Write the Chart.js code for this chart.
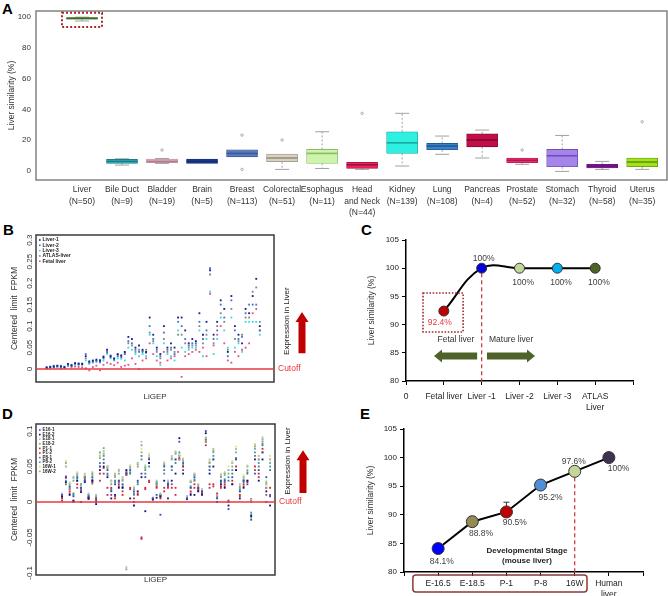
<!DOCTYPE html>
<html>
<head>
<meta charset="utf-8">
<script src="https://cdn.jsdelivr.net/npm/chart.js@4.4.1/dist/chart.umd.min.js"></script>
<style>
  body { margin: 0; background: #fff; width: 668px; height: 596px; position: relative; overflow: hidden;
         font-family: "Liberation Sans", Arial, sans-serif; }
  .panel { position: absolute; }
  .tag { position: absolute; font-weight: bold; font-size: 15px; color: #000; line-height: 15px; }
</style>
</head>
<body>
<div class="tag" style="left:2px;top:1px">A</div>
<div class="tag" style="left:3px;top:222px">B</div>
<div class="tag" style="left:361px;top:222px">C</div>
<div class="tag" style="left:2px;top:406px">D</div>
<div class="tag" style="left:360px;top:406px">E</div>

<div class="panel" style="left:0;top:0"><canvas id="chartA" width="668" height="222"></canvas></div>
<div class="panel" style="left:0;top:222px"><canvas id="chartB" width="330" height="182"></canvas></div>
<div class="panel" style="left:330px;top:222px"><canvas id="chartC" width="338" height="190"></canvas></div>
<div class="panel" style="left:0;top:410px"><canvas id="chartD" width="330" height="186"></canvas></div>
<div class="panel" style="left:330px;top:412px"><canvas id="chartE" width="338" height="184"></canvas></div>

<script>
// ---------- A: liver similarity by tissue ----------
var tissues = ['Liver', 'Bile Duct', 'Bladder', 'Brain', 'Breast', 'Colorectal', 'Esophagus', 'Head and Neck',
               'Kidney', 'Lung', 'Pancreas', 'Prostate', 'Stomach', 'Thyroid', 'Uterus'];
var sampleN   = [50, 9, 19, 5, 113, 51, 11, 44, 139, 108, 4, 52, 32, 58, 35];
var boxMin    = [97.5, 3.7, 4.8, 4.8, 9.1, 0.9, 1.5, 0.9, 3.1, 10.7, 8.3, 4.2, -0.4, 0.9, 0.9];
var boxQ1     = [98.7, 4.8, 5.3, 4.8, 9.1, 5.9, 4.8, 1.5, 11.3, 13.7, 15.6, 5.2, 2.6, 1.8, 2.6];
var boxMedian = [99.2, 6.1, 6.2, 6.1, 11.3, 8.3, 11.3, 3.9, 18.2, 16.1, 20, 6.8, 9.8, 3.1, 5.7];
var boxQ3     = [99.7, 7.4, 7.6, 7.6, 13.7, 10.9, 13.9, 5.5, 25.4, 17.8, 24.1, 8.3, 13.9, 4.2, 8.3];
var boxMax    = [100, 7.8, 8, 7.6, 13.7, 10.9, 25.4, 5.5, 37.4, 22.6, 26.5, 8.3, 23, 6.1, 8.3];
var boxOutliers = [[], [], [13.5], [], [23.2, 0.9], [20], [], [37.4], [], [], [], [13.5], [], [], [31.9]];
var simTicks  = [0, 20, 40, 60, 80, 100];

// ---------- B: LiGEP expression, human samples ----------
var liver1 = [.004,.005,.006,.008,.006,.004,.012,.009,.014,.013, .012,.03,.018,.02,.022,.02,.028,.045,.03,.025,
              .035,.032,.04,.075,.07,.05,.055,.045,.04,.12, .08,.05,.035,.1,.05,.06,.05,.12,.12,.09,
              .06,.07,.065,.13,.08,.11,.23,.08,.11,.16, .14,.04,.17,.1,.08,.06,.14,.13,.17,.21,.1];
var liver2 = [.003,.004,.005,.007,.007,.005,.01,.008,.012,.011, .013,.035,.015,.017,.019,.016,.025,.04,.028,.022,
              .03,.028,.035,.065,.06,.045,.04,.04,.038,.1, .07,.045,.03,.085,.045,.05,.035,.11,.1,.07,
              .055,.06,.06,.11,.07,.09,.235,.07,.09,.15, .12,.03,.16,.09,.07,.075,.13,.15,.15,.15,.09];
var liver3 = [.003,.006,.004,.005,.008,.006,.009,.01,.01,.01, .011,.02,.012,.015,.016,.018,.02,.035,.025,.02,
              .025,.024,.02,.05,.045,.035,.03,.035,.03,.08, .06,.03,.01,.06,.035,.03,.02,.09,.05,.04,
              .045,.05,.05,.09,.03,.07,.18,.035,.07,.12, .09,.05,.12,.05,.06,.04,.11,.11,.11,.11,.08];
var atlasLiver = [.004,.005,.007,.006,.005,.004,.011,.007,.013,.012, .01,.025,.016,.019,.02,.021,.03,.038,.032,.024,
              .033,.03,.038,.06,.055,.04,.045,.042,.045,.085, .065,.04,.025,.07,.04,.045,.04,.08,.08,.06,
              .05,.055,.055,.1,.06,.08,.22,.06,.1,.13, .11,.045,.14,.07,.065,.08,.12,.12,.18,.19,.11];
var fetalLiver = [.002,.003,.008,.004,.002,.003,.007,.004,.006,.005, .004,.002,-.003,.005,.008,-.003,.01,.015,.012,.009,
              .015,.005,.008,.01,.025,.012,0,.02,.025,.06, .035,.02,.015,.04,.02,.025,.03,.04,-.018,.03,
              .035,.04,.045,.04,.05,.03,.175,.055,.08,.1, .06,.02,.015,.04,.03,.045,.05,.06,.13,.14,.09];
var seriesB = ['Liver-1', 'Liver-2', 'Liver-3', 'ATLAS-liver', 'Fetal liver'];
var ticksB = [0, 0.05, 0.1, 0.15, 0.2, 0.25, 0.3];

// ---------- C: similarity of human samples ----------
var samplesC = ['Fetal liver', 'Liver -1', 'Liver -2', 'Liver -3', ['ATLAS', 'Liver']];
var similarityC = [92.4, 100, 100, 100, 100];

// ---------- D: LiGEP expression, mouse stages ----------
var e16a = [.010,.035,.022,.008,.035,.02,.03,.008,.035,.002, .05,.055,.045,.015,.025,.03,.025,.04,.045,.015,
            .03,.04,.035,.06,.005,.01,-.018,.05,.025,.05, .06,.085,.055,.005,.02,.035,.02,.015,.1,.045,
            .06,.005,.03,.03,-.01,.035,.06,.015,.03,.025, -.025,.04,.045,.07,.035,.008];
var e16b = [.008,.028,.01,.002,.03,.014,.028,.005,.03,-.003, .045,.05,.035,.005,.01,.02,.02,.045,.005,-.005,
            .015,.035,-.013,.055,.004,.006,.008,.03,.005,.03, .04,.09,.04,.004,.01,.01,.015,.01,.097,.04,
            .05,0,.025,.02,-.005,.025,.045,.005,.02,.03, -.02,.06,.03,.06,.015,-.005];
var e18a = [.012,.05,.026,.035,.04,.022,.04,.012,.042,.01, .065,.072,.05,.03,.04,.045,.035,-.092,.05,.02,
            .055,.085,.05,.065,.006,.03,.012,.055,.03,.065, .07,.065,.06,.008,.03,.04,.025,.018,.09,.06,
            .075,.01,.038,.042,.045,.055,.075,.025,.035,.05, .003,.08,.065,.09,.025,.06];
var e18b = [.009,.055,.02,.03,.038,.025,.036,.01,.04,.008, .07,.076,.048,.025,.035,.04,.03,-.095,.048,.018,
            .05,.08,.048,.062,.005,.025,.01,.052,.028,.06, .068,.06,.058,.006,.028,.038,.022,.016,.085,.055,
            .072,.008,.035,.04,.04,.05,.07,.02,.032,.045, 0,.075,.06,.085,.02,.055];
var p1a  = [.005,.036,.015,.001,.025,.016,.035,.006,.03,.004, .04,.048,.02,.02,.005,.025,.01,.04,.02,.005,
            .012,-.05,.02,.03,.004,.02,.007,.015,.02,.02, .01,.062,.05,.007,.015,.025,.018,.012,.085,.025,
            .025,.012,.022,.025,0,.03,.05,.01,.025,.03, .004,.05,.04,.075,.02,.02];
var p1b  = [.002,.034,.012,0,.02,0,.03,.004,.028,0, .03,.04,.01,.01,.008,.022,.015,.038,.018,0,
            .01,-.052,.018,.028,.003,.022,.005,.02,.022,.025, .02,.06,.045,.005,.012,.02,.016,.012,.08,.02,
            .022,.01,.02,.022,.002,.025,.045,.008,.022,.028, .002,.045,.035,.07,0,.01];
var p8a  = [.007,.025,.018,.012,.03,.02,.032,.007,.026,.006, .055,.06,.04,.018,.03,.028,.022,.042,.04,.012,
            .025,.065,.04,.055,.005,.025,.01,.045,.024,.045, .055,.065,.05,.006,.02,.03,.02,.015,.088,.05,
            .06,.008,.028,.028,.03,.04,.06,.015,.028,.04, -.018,.065,.05,.08,.01,.045];
var p8b  = [.006,.03,.02,.01,.033,.018,.034,.006,.032,.005, .05,.065,.038,.016,.028,.03,.02,.04,.042,.01,
            .028,.06,.045,.05,.006,.028,.009,.04,.026,.05, .06,.07,.052,.008,.022,.032,.019,.014,.09,.05,
            .065,.006,.03,.032,.035,.045,.062,.018,.03,.042, -.015,.07,.055,.082,.025,.05];
var w16a = [.011,.058,.028,.036,.042,.026,.038,.011,.04,.01, .068,.07,.046,.028,.04,.046,.034,.045,.052,.022,
            .055,.075,.052,.068,.005,.03,.012,.056,.03,.064, .072,.068,.062,.007,.03,.04,.025,.018,.092,.058,
            .075,.011,.04,.04,.05,.058,.078,.025,.038,.052, -.02,.082,.065,.092,.03,.065];
var w16b = [.01,.05,.025,.034,.04,.024,.036,.01,.038,.009, .062,.068,.05,.03,.038,.044,.032,.043,.05,.02,
            .053,.07,.05,.06,.004,.026,.01,.054,.028,.062, .07,.066,.06,.006,.028,.038,.024,.017,.088,.056,
            .07,.01,.036,.038,.045,.055,.075,.022,.035,.05, -.022,.078,.06,.088,.028,.06];
var seriesD = ['E16-1', 'E16-2', 'E18-1', 'E18-2', 'P1-1', 'P1-2', 'P8-1', 'P8-2', '16W-1', '16W-2'];
var ticksD = [-0.1, -0.05, 0, 0.05, 0.1];

// ---------- E: similarity across mouse development ----------
var stagesE = ['E-16.5', 'E-18.5', 'P-1', 'P-8', '16W', ['Human', 'liver']];
var similarityE = [84.1, 88.8, 90.5, 95.2, 97.6, 100];
var errorE = [0.8, 0.9, 1.7, 0, 0, 0];

// ---------- styling ----------
var FONT = '"Liberation Sans", Arial, sans-serif';
Chart.defaults.font.family = FONT;
Chart.defaults.color = '#333';
Chart.defaults.animation = false;
Chart.defaults.responsive = false;
Chart.defaults.plugins.legend.display = false;
Chart.defaults.plugins.tooltip.enabled = false;

var boxFill = ['#8cc152', '#2bb5c0', '#f2c6d8', '#1f3f99', '#5b7cbc', '#d8d2c2', '#cdf4aa', '#e8235a',
               '#2ef0e0', '#3d82c6', '#c20f4a', '#f2307a', '#a585ea', '#9a2aa8', '#a4e21c'];
var boxEdge = ['#3b6b22', '#1b7d88', '#b07a90', '#102a70', '#3a5a98', '#98907e', '#8aba6a', '#a01040',
               '#18a89c', '#1f5a98', '#80082e', '#b01850', '#6e50b8', '#60107a', '#5e9a08'];
var colorsB = ['#1c1c8c', '#4a6fd0', '#38dce8', '#7c8c82', '#e8508a'];
var colorsD = ['#3050c0', '#101080', '#b4bcc4', '#88a08e', '#e02020', '#b03060', '#5e7878', '#30a0b0', '#d4ea7c', '#8cae6c'];
var colorsC = ['#c00000', '#0000dd', '#c4d79b', '#00b0f0', '#4f6228'];
var colorsE = ['#0000ff', '#948a54', '#c00000', '#4f8fd8', '#c4d79b', '#3f3151'];

function ln(ctx, x1, y1, x2, y2) { ctx.beginPath(); ctx.moveTo(x1, y1); ctx.lineTo(x2, y2); ctx.stroke(); }

function blockArrow(ctx, x0, y0, x1, y1, shaft, headW, headL, color) {
  var ang = Math.atan2(y1 - y0, x1 - x0), len = Math.hypot(x1 - x0, y1 - y0);
  ctx.save();
  ctx.translate(x0, y0); ctx.rotate(ang);
  ctx.beginPath();
  ctx.moveTo(0, -shaft / 2); ctx.lineTo(len - headL, -shaft / 2); ctx.lineTo(len - headL, -headW / 2);
  ctx.lineTo(len, 0); ctx.lineTo(len - headL, headW / 2); ctx.lineTo(len - headL, shaft / 2);
  ctx.lineTo(0, shaft / 2); ctx.closePath();
  ctx.fillStyle = color; ctx.fill();
  ctx.restore();
}

// plot frame around chart area
Chart.register({
  id: 'frame',
  afterDatasetsDraw: function (chart, args, opts) {
    if (!opts.color) return;
    var a = chart.chartArea, ctx = chart.ctx;
    ctx.save();
    ctx.strokeStyle = opts.color; ctx.lineWidth = opts.width || 1;
    ctx.strokeRect(a.left, a.top, a.right - a.left, a.bottom - a.top);
    ctx.restore();
  }
});

function fixSize(w, h) {
  return function (s) { if (w != null) s.width = w; if (h != null) s.height = h; };
}

// ---------- chart A ----------
function tissueLabel(i) {
  var name = tissues[i];
  var lines = name.length > 10 ? [name.slice(0, name.indexOf(' ')), name.slice(name.indexOf(' ') + 1)] : [name];
  return lines.concat('(N=' + sampleN[i] + ')');
}

var boxParts = {
  id: 'boxParts',
  beforeDatasetsDraw: function (chart) {
    var x = chart.scales.x, y = chart.scales.y, ctx = chart.ctx;
    ctx.save();
    ctx.strokeStyle = '#8a8a8a'; ctx.lineWidth = 0.8;
    tissues.forEach(function (t, i) {
      var px = x.getPixelForValue(i);
      ctx.setLineDash([2, 2]);
      ln(ctx, px, y.getPixelForValue(boxQ3[i]), px, y.getPixelForValue(boxMax[i]));
      ln(ctx, px, y.getPixelForValue(boxQ1[i]), px, y.getPixelForValue(boxMin[i]));
      ctx.setLineDash([]);
      if (boxMax[i] > boxQ3[i]) ln(ctx, px - 7, y.getPixelForValue(boxMax[i]), px + 7, y.getPixelForValue(boxMax[i]));
      if (boxMin[i] < boxQ1[i]) ln(ctx, px - 7, y.getPixelForValue(boxMin[i]), px + 7, y.getPixelForValue(boxMin[i]));
    });
    ctx.restore();
  },
  afterDatasetsDraw: function (chart) {
    var x = chart.scales.x, y = chart.scales.y, ctx = chart.ctx;
    var bars = chart.getDatasetMeta(0).data;
    ctx.save();
    tissues.forEach(function (t, i) {
      var px = x.getPixelForValue(i), half = bars[i].width / 2;
      ctx.strokeStyle = boxEdge[i]; ctx.lineWidth = 1.6;
      ln(ctx, px - half, y.getPixelForValue(boxMedian[i]), px + half, y.getPixelForValue(boxMedian[i]));
      ctx.strokeStyle = '#9a9a9a'; ctx.lineWidth = 0.8;
      boxOutliers[i].forEach(function (v) {
        ctx.beginPath(); ctx.arc(px, y.getPixelForValue(v), 1.2, 0, Math.PI * 2); ctx.stroke();
      });
    });
    // dotted highlight around the liver box
    ctx.strokeStyle = '#a52a2a'; ctx.lineWidth = 2; ctx.setLineDash([2, 2]);
    var l = x.getPixelForValue(-0.5), r = x.getPixelForValue(0.5);
    var tp = y.getPixelForValue(102.8), bt = y.getPixelForValue(93.6);
    ctx.strokeRect(l, tp, r - l, bt - tp);
    ctx.restore();
  }
};

new Chart(document.getElementById('chartA'), {
  type: 'bar',
  data: {
    datasets: [{
      data: tissues.map(function (t, i) { return { x: i, y: [boxQ1[i], boxQ3[i]] }; }),
      backgroundColor: boxFill,
      borderColor: boxEdge,
      borderWidth: 0.8,
      borderSkipped: false,
      barThickness: 31
    }]
  },
  options: {
    layout: { padding: { top: 11, right: 1, left: 0, bottom: 0 } },
    plugins: { frame: { color: '#7a7a7a', width: 1.4 } },
    scales: {
      x: {
        type: 'linear', min: -1.15, max: 14.62, offset: false,
        afterBuildTicks: function (s) { s.ticks = tissues.map(function (t, i) { return { value: i }; }); },
        afterFit: fixSize(null, 42),
        grid: { display: false, drawTicks: false, offset: false },
        border: { display: false },
        ticks: { autoSkip: false, maxRotation: 0, padding: 4, color: '#333',
                 font: { size: 8.5, lineHeight: 1.35 },
                 callback: function (v) { return tissueLabel(v); } }
      },
      y: {
        min: -6, max: 104,
        afterBuildTicks: function (s) { s.ticks = simTicks.map(function (v) { return { value: v }; }); },
        afterFit: fixSize(36, null),
        grid: { display: false, drawTicks: false },
        border: { display: false },
        ticks: { padding: 5, font: { size: 8 }, color: '#333' },
        title: { display: true, text: 'Liver similarity (%)', font: { size: 8.5 }, color: '#333', padding: { top: 7 } }
      }
    }
  },
  plugins: [boxParts]
});

// ---------- shared pieces for B and D ----------
function fpkmNotes(opts) {
  return {
    id: 'fpkmNotes',
    afterDraw: function (chart) {
      var a = chart.chartArea, y = chart.scales.y, ctx = chart.ctx;
      ctx.save();
      // rotated tick labels
      ctx.font = '8px ' + FONT; ctx.fillStyle = '#333'; ctx.textAlign = 'center'; ctx.textBaseline = 'middle';
      opts.ticks.forEach(function (v) {
        ctx.save(); ctx.translate(a.left - 6, y.getPixelForValue(v)); ctx.rotate(-Math.PI / 2);
        ctx.fillText(String(v), 0, 0); ctx.restore();
      });
      // axis title
      ctx.font = '8.5px ' + FONT;
      ctx.save(); ctx.translate(15, (a.top + a.bottom) / 2); ctx.rotate(-Math.PI / 2);
      ctx.fillText('Centered  limit  FPKM', 0, 0); ctx.restore();
      // cutoff
      var y0 = y.getPixelForValue(0);
      ctx.strokeStyle = '#e8383c'; ctx.lineWidth = 1.5;
      ln(ctx, a.left, y0, a.right, y0);
      ctx.fillStyle = '#e8383c'; ctx.textAlign = 'left';
      ctx.fillText('Cutoff', a.right + 4, y0);
      // expression note
      ctx.fillStyle = '#222'; ctx.textAlign = 'center'; ctx.font = '8px ' + FONT;
      ctx.save(); ctx.translate(a.right + 13, y.getPixelForValue(opts.textAt)); ctx.rotate(-Math.PI / 2);
      ctx.fillText('Expression in Liver', 0, 0); ctx.restore();
      blockArrow(ctx, a.right + 28, y.getPixelForValue(opts.arrowFrom), a.right + 28, y.getPixelForValue(opts.arrowTo),
                 7, 13, 10, '#c00000');
      // legend
      ctx.font = 'bold ' + opts.legendSize + 'px ' + FONT; ctx.textAlign = 'left';
      chart.data.datasets.forEach(function (ds, i) {
        var ly = a.top + opts.legendTop + i * opts.legendStep;
        ctx.fillStyle = ds.backgroundColor;
        ctx.fillRect(a.left + 3, ly - 0.8, 1.6, 1.6);
        ctx.fillStyle = '#222';
        ctx.fillText(ds.label, a.left + 6.5, ly);
      });
      ctx.restore();
    }
  };
}

function fpkmChart(id, names, values, colors, xMin, xMax, yMin, yMax, titlePad, notes) {
  return new Chart(document.getElementById(id), {
    type: 'scatter',
    data: {
      datasets: names.map(function (n, k) {
        return {
          label: n,
          data: values[k].map(function (v, i) { return { x: i + 1, y: v }; }),
          backgroundColor: colors[k],
          borderWidth: 0,
          pointStyle: 'rect',
          pointRadius: 1.3
        };
      })
    },
    options: {
      layout: { padding: { top: notes.top, right: notes.right, left: 0, bottom: 0 } },
      plugins: { frame: { color: '#3a3a3a', width: 1.5 } },
      scales: {
        x: {
          type: 'linear', min: xMin, max: xMax,
          afterFit: fixSize(null, notes.bottom),
          grid: { display: false }, border: { display: false },
          ticks: { display: false },
          title: { display: true, text: 'LiGEP', font: { size: 8 }, color: '#333', padding: { bottom: titlePad, top: 0 } }
        },
        y: {
          min: yMin, max: yMax,
          afterFit: fixSize(36, null),
          grid: { display: false }, border: { display: false },
          ticks: { display: false }
        }
      }
    },
    plugins: [fpkmNotes(notes)]
  });
}

fpkmChart('chartB', seriesB, [liver1, liver2, liver3, atlasLiver, fetalLiver], colorsB,
  -2, 65, -0.03, 0.312, 2,
  { ticks: ticksB, textAt: 0.1116, arrowFrom: 0.037, arrowTo: 0.1326, top: 13, right: 56, bottom: 22,
    legendTop: 5, legendStep: 5.3, legendSize: 5 });

fpkmChart('chartD', seriesD, [e16a, e16b, e18a, e18b, p1a, p1b, p8a, p8b, w16a, w16b], colorsD,
  -5.9, 57.3, -0.103, 0.11, 11,
  { ticks: ticksD, textAt: 0.0577, arrowFrom: 0.0127, arrowTo: 0.073, top: 14, right: 55, bottom: 21,
    legendTop: 6, legendStep: 4.6, legendSize: 4.5 });

// ---------- C ----------
function valueLabels(values, offsets, colors, font) {
  return function (chart, ctx) {
    var x = chart.scales.x, y = chart.scales.y;
    ctx.font = font; ctx.textAlign = 'center'; ctx.textBaseline = 'middle';
    values.forEach(function (v, i) {
      ctx.fillStyle = colors[i];
      ctx.fillText(v + '%', x.getPixelForValue(i + 1) + offsets[i][0], y.getPixelForValue(v) + offsets[i][1]);
    });
  };
}

var labelsC = valueLabels(similarityC, [[-4, 11.3], [2, -9.4], [3.7, 14], [3.7, 14], [3.7, 14]],
  ['#e8383c', '#404040', '#404040', '#404040', '#404040'], '8.5px ' + FONT);

var notesC = {
  id: 'notesC',
  afterDatasetsDraw: function (chart) {
    var x = chart.scales.x, y = chart.scales.y, ctx = chart.ctx;
    ctx.save();
    labelsC(chart, ctx);
    ctx.strokeStyle = '#c83232'; ctx.lineWidth = 1.2; ctx.setLineDash([4, 3]);
    ln(ctx, x.getPixelForValue(2), y.getPixelForValue(similarityC[1]) + 5, x.getPixelForValue(2), y.getPixelForValue(80));
    ctx.strokeStyle = '#a52a2a'; ctx.lineWidth = 1.6; ctx.setLineDash([1.6, 1.6]);
    var l = x.getPixelForValue(0.45), r = x.getPixelForValue(1.51), t = y.getPixelForValue(95.6), b = y.getPixelForValue(88.7);
    ctx.strokeRect(l, t, r - l, b - t);
    ctx.setLineDash([]);
    ctx.fillStyle = '#333'; ctx.font = '8.5px ' + FONT; ctx.textAlign = 'center'; ctx.textBaseline = 'middle';
    ctx.fillText('Fetal liver', x.getPixelForValue(1.32), y.getPixelForValue(87.27));
    ctx.fillText('Mature liver', x.getPixelForValue(2.78), y.getPixelForValue(87.27));
    var ay = y.getPixelForValue(84.43);
    blockArrow(ctx, x.getPixelForValue(1.88), ay, x.getPixelForValue(0.74), ay, 7, 13, 8, '#4f6228');
    blockArrow(ctx, x.getPixelForValue(2.14), ay, x.getPixelForValue(3.41), ay, 7, 13, 8, '#4f6228');
    ctx.restore();
  }
};

function excelAxes(xMax, xLabel, padLeft, tickPad) {
  return {
    x: {
      type: 'linear', min: 0, max: xMax,
      afterBuildTicks: function (s) {
        var t = []; for (var i = 0; i <= xMax; i++) t.push({ value: i }); s.ticks = t;
      },
      grid: { drawOnChartArea: false, tickLength: 4, color: '#000', lineWidth: 1 },
      border: { color: '#000', width: 1.5 },
      ticks: { autoSkip: false, maxRotation: 0, padding: tickPad, font: { size: 8.5, lineHeight: 1.3 }, color: '#222',
               callback: xLabel }
    },
    y: {
      min: 80, max: 105,
      afterFit: fixSize(padLeft, null),
      grid: { drawOnChartArea: false, tickLength: 4, color: '#000', lineWidth: 1 },
      border: { color: '#000', width: 1.5 },
      ticks: { stepSize: 5, padding: 3, font: { size: 8 }, color: '#222' },
      title: { display: true, text: 'Liver similarity (%)', font: { size: 8.5 }, color: '#333', padding: { top: 4 } }
    }
  };
}

new Chart(document.getElementById('chartC'), {
  type: 'line',
  data: {
    datasets: [{
      data: similarityC.map(function (v, i) { return { x: i + 1, y: v }; }),
      borderColor: '#000', borderWidth: 2, tension: 0.4,
      pointRadius: 5, pointBackgroundColor: colorsC, pointBorderColor: '#333', pointBorderWidth: 1
    }]
  },
  options: {
    layout: { padding: { top: 18, right: 35, left: 33, bottom: 0 } },
    scales: (function () {
      var s = excelAxes(6, function (v) { return v === 0 ? '0' : (samplesC[v - 1] || ''); }, 43, 6);
      s.x.afterFit = fixSize(null, 31);
      return s;
    })()
  },
  plugins: [notesC]
});

// ---------- E ----------
var labelsE = valueLabels(similarityE, [[3.6, 13.3], [8.7, 11.7], [8.3, 11], [10, 12.7], [-1, -9.7], [9.7, 10.7]],
  ['#404040', '#404040', '#404040', '#404040', '#404040', '#404040'], '8.5px ' + FONT);

var notesE = {
  id: 'notesE',
  beforeDatasetsDraw: function (chart) {
    var x = chart.scales.x, y = chart.scales.y, ctx = chart.ctx;
    ctx.save();
    ctx.strokeStyle = '#333'; ctx.lineWidth = 1;
    similarityE.forEach(function (v, i) {
      if (!errorE[i]) return;
      var px = x.getPixelForValue(i + 1), top = y.getPixelForValue(v + errorE[i]);
      ln(ctx, px, y.getPixelForValue(v), px, top);
      ln(ctx, px - 3, top, px + 3, top);
    });
    ctx.strokeStyle = '#d03030'; ctx.lineWidth = 1.2; ctx.setLineDash([4, 3]);
    ln(ctx, x.getPixelForValue(5), y.getPixelForValue(similarityE[4]) + 6, x.getPixelForValue(5), y.getPixelForValue(80));
    ctx.restore();
  },
  afterDatasetsDraw: function (chart) {
    var x = chart.scales.x, y = chart.scales.y, a = chart.chartArea, ctx = chart.ctx;
    ctx.save();
    labelsE(chart, ctx);
    ctx.fillStyle = '#222'; ctx.font = 'bold 8px ' + FONT;
    ctx.fillText('Developmental Stage', x.getPixelForValue(3.6), y.getPixelForValue(83.67));
    ctx.fillText('(mouse liver)', x.getPixelForValue(3.6), y.getPixelForValue(81.92));
    ctx.strokeStyle = '#8b3a3a'; ctx.lineWidth = 1.5;
    var l = x.getPixelForValue(0.26), r = x.getPixelForValue(5.36);
    ctx.beginPath();
    if (ctx.roundRect) ctx.roundRect(l, a.bottom + 3, r - l, 17, 3); else ctx.rect(l, a.bottom + 3, r - l, 17);
    ctx.stroke();
    ctx.restore();
  }
};

new Chart(document.getElementById('chartE'), {
  type: 'line',
  data: {
    datasets: [{
      data: similarityE.map(function (v, i) { return { x: i + 1, y: v }; }),
      borderColor: '#000', borderWidth: 2, tension: 0,
      pointRadius: 6, pointBackgroundColor: colorsE, pointBorderColor: '#333', pointBorderWidth: 1
    }]
  },
  options: {
    layout: { padding: { top: 17, right: 25, left: 32, bottom: 0 } },
    scales: (function () {
      var s = excelAxes(7, function (v) { return stagesE[v - 1] || ''; }, 42, 2);
      s.x.afterFit = fixSize(null, 24);
      return s;
    })()
  },
  plugins: [notesE]
});
</script>
</body>
</html>
